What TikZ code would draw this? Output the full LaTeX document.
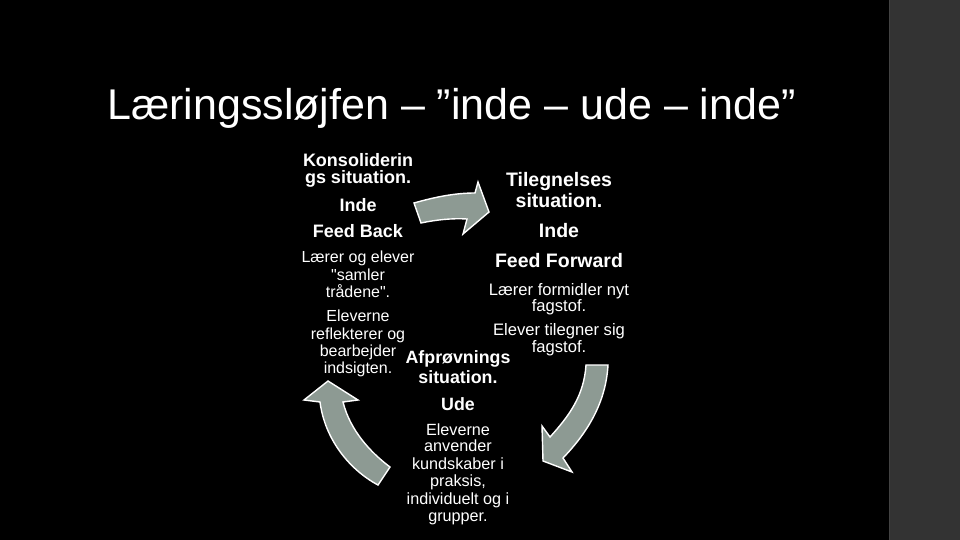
\documentclass[tikz,border=0pt]{standalone}
\usepackage{fontspec}
\setmainfont{Liberation Sans}[Ligatures=TeXOff]
\definecolor{arrowfill}{HTML}{8D9A93}
\definecolor{panel}{HTML}{333333}
\definecolor{paneledge}{HTML}{424242}
\begin{document}
\begin{tikzpicture}[x=1pt,y=-1pt,
  txt/.style={text=white,inner sep=0pt,anchor=base},
  boldL/.style={txt,font=\fontsize{18}{20}\selectfont\bfseries},
  boldR/.style={txt,font=\fontsize{19.5}{21}\selectfont\bfseries},
  boldM/.style={txt,font=\fontsize{17.8}{20}\selectfont\bfseries},
  regL/.style={txt,font=\fontsize{16}{17}\selectfont},
  regR/.style={txt,font=\fontsize{16.6}{17}\selectfont},
  regM/.style={txt,font=\fontsize{16.2}{17}\selectfont},
  bigarrow/.style={fill=arrowfill,draw=white,line width=1.4pt,line join=miter}]
\useasboundingbox (0,0) rectangle (960,540);
\fill[black] (0,0) rectangle (960,540);
\fill[panel] (889,0) rectangle (960,540);
\draw[paneledge,line width=1pt] (889.5,0) -- (889.5,540);

% title
\node[txt,anchor=base west,font=\fontsize{43}{48}\selectfont] (title) at (107,120)
  {Læringssløjfen – ”inde – ude – inde”};

% left block
\foreach \t/\y [count=\i] in {Konsoliderin/166.7, gs situation./183.3, Inde/211, Feed Back/237.3}
  \node[boldL] (lb\i) at (358,\y) {\t};
\foreach \t/\y [count=\i] in {Lærer og elever/262.7, "samler/280, trådene"./297.3, Eleverne/321.7, reflekterer og/339.3, bearbejder/356.7, indsigten./373.3}
  \node[regL] (lr\i) at (358,\y) {\t};

% right block
\foreach \t/\y [count=\i] in {Tilegnelses/186.7, situation./207.7, Inde/237.3, Feed Forward/267}
  \node[boldR] (rb\i) at (559,\y) {\t};
\foreach \t/\y [count=\i] in {Lærer formidler nyt/295, fagstof./311.7, Elever tilegner sig/335, fagstof./352.7}
  \node[regR] (rr\i) at (559,\y) {\t};

% middle block
\foreach \t/\y [count=\i] in {Afprøvnings/363.3, situation./383.3, Ude/410}
  \node[boldM] (mb\i) at (458,\y) {\t};
\foreach \t/\y [count=\i] in {Eleverne/435, anvender/451.7, kundskaber i/469, {praksis,}/486.7, individuelt og i/504, grupper./521}
  \node[regM] (mr\i) at (458,\y) {\t};

% top arrow (left -> right)
\path[bigarrow] (414,203) .. controls (435,197) and (455,193) .. (475,193)
  -- (478,182) -- (489,212) -- (463,234) -- (467,219)
  .. controls (452,218) and (435,220) .. (421,223) -- cycle;

% right arrow (down to bottom)
\path[bigarrow] (586,365) -- (608,365)
  .. controls (606,400) and (590,430) .. (563,458)
  -- (572,472) -- (543,461) -- (542,426) -- (550,437)
  .. controls (570,415) and (584,395) .. (586,365) -- cycle;

% left arrow (up to top left)
\path[bigarrow] (378,485) -- (390,467)
  .. controls (370,452) and (350,430) .. (343,402)
  -- (358,400) -- (328,381) -- (304,400) -- (320,402)
  .. controls (325,440) and (350,470) .. (378,485) -- cycle;
\end{tikzpicture}
\end{document}
